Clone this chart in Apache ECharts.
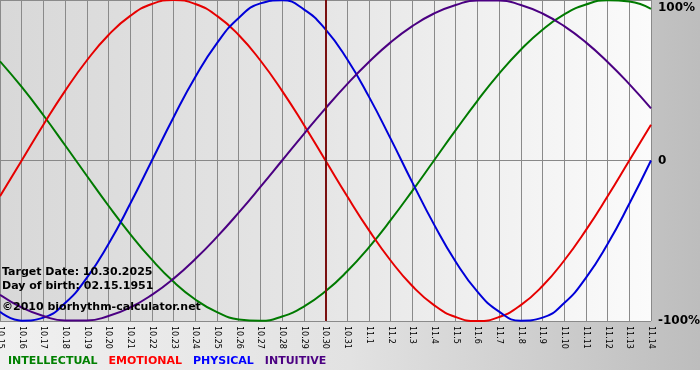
<!DOCTYPE html>
<html>
<head>
<meta charset="utf-8">
<script src="https://cdn.jsdelivr.net/npm/echarts@6/dist/echarts.min.js"></script>
<style>
html,body{margin:0;padding:0;background:#fff;}
#chartmain{width:700px;height:380px;}
</style>
</head>
<body>
<div id="chartmain"></div>
<script>
var days=['10.15','10.16','10.17','10.18','10.19','10.20','10.21','10.22','10.23','10.24','10.25','10.26','10.27','10.28','10.29','10.30','10.31',
	'11.1','11.2','11.3','11.4','11.5','11.6','11.7','11.8','11.9','11.10','11.11','11.12','11.13','11.14'];
var intellectual=[61.8,45.8,28.2,9.5,-9.5,-28.2,-45.8,-61.8,-75.6,-86.6,-94.5,-99.0,-99.9,-97.2,-91.0,-81.5,-69.0,-54.1,-37.2,-18.9,0,18.9,37.2,54.1,69.0,81.5,91.0,97.2,99.9,99.0,94.5];
var emotional=[-22.3,0,22.3,43.4,62.3,78.2,90.1,97.5,100,97.5,90.1,78.2,62.3,43.4,22.3,0,-22.3,-43.4,-62.3,-78.2,-90.1,-97.5,-100,-97.5,-90.1,-78.2,-62.3,-43.4,-22.3,0,22.3];
var physical=[-94.2,-99.8,-97.9,-88.8,-73.1,-52.0,-27.0,0,27.0,52.0,73.1,88.8,97.9,99.8,94.2,81.7,63.1,39.8,13.6,-13.6,-39.8,-63.1,-81.7,-94.2,-99.8,-97.9,-88.8,-73.1,-52.0,-27.0,0];
var intuitive=[-83.7,-91.6,-96.9,-99.7,-99.7,-96.9,-91.6,-83.7,-73.6,-61.4,-47.6,-32.5,-16.5,0,16.5,32.5,47.6,61.4,73.6,83.7,91.6,96.9,99.7,99.7,96.9,91.6,83.7,73.6,61.4,47.6,32.5];
var targetDay='10.30';
var infoLines=['Target Date: 10.30.2025','Day of birth: 02.15.1951','©2010 biorhythm-calculator.net'];

var font='DejaVu Sans';
function makeLine(name,color,data,extra){
	var s={
		name:name,
		type:'line',
		data:data,
		smooth:true,
		symbol:'none',
		lineStyle:{color:color,width:2},
		itemStyle:{color:color}
	};
	if(extra) s.markLine=extra;
	return s;
}
var option={
	animation:false,
	graphic:[
		{type:'rect',z:-10,shape:{x:0,y:0,width:700,height:370},
		 style:{fill:new echarts.graphic.LinearGradient(0,0,1,0,[{offset:0,color:'#f0f0f0'},{offset:0.5,color:'#e2e2e2'},{offset:1,color:'#bdbdbd'}])}},
		{type:'text',z:100,left:2,top:267,style:{text:infoLines[0],font:'bold 11px '+font,fill:'#000'}},
		{type:'text',z:100,left:2,top:281,style:{text:infoLines[1],font:'bold 11px '+font,fill:'#000'}},
		{type:'text',z:100,left:2,top:302,style:{text:infoLines[2],font:'bold 11px '+font,fill:'#000'}}
	],
	grid:{
		left:0,top:0,right:49,bottom:59,
		outerBoundsMode:'none',
		show:true,borderWidth:0,
		backgroundColor:new echarts.graphic.LinearGradient(0,0,1,0,[{offset:0,color:'#d8d8d8'},{offset:0.5,color:'#e6e6e6'},{offset:1,color:'#fbfbfb'}])
	},
	legend:{
		left:3,top:356,padding:0,
		icon:'none',itemWidth:0,itemHeight:0,itemGap:6,
		textStyle:{fontFamily:font,fontWeight:'bold',fontSize:11},
		data:[
			{name:'INTELLECTUAL',textStyle:{color:'#008000'}},
			{name:'EMOTIONAL',textStyle:{color:'#ff0000'}},
			{name:'PHYSICAL',textStyle:{color:'#0000ff'}},
			{name:'INTUITIVE',textStyle:{color:'#4b0082'}}
		]
	},
	xAxis:{
		type:'category',
		data:days,
		boundaryGap:false,
		axisLine:{lineStyle:{color:'#888'}},
		axisTick:{show:true,length:4,lineStyle:{color:'#888'}},
		axisLabel:{rotate:-90,interval:0,fontSize:8,fontFamily:font,color:'#000',margin:5},
		splitLine:{show:true,lineStyle:{color:'#8a8a8a',width:1}}
	},
	yAxis:{
		type:'value',
		position:'right',
		min:-100,max:100,interval:100,
		axisLine:{show:false},
		axisTick:{show:false},
		axisLabel:{
			margin:7,fontSize:12,fontWeight:'bold',fontFamily:font,color:'#000',
			verticalAlignMaxLabel:'top',
			padding:[2,0,0,0],
			formatter:function(v){return v==0?'0':v+'%';}
		},
		splitLine:{show:true,lineStyle:{color:'#8a8a8a',width:1}}
	},
	series:[
		makeLine('INTELLECTUAL','#007a00',intellectual),
		makeLine('EMOTIONAL','#e60000',emotional),
		makeLine('PHYSICAL','#0000d8',physical),
		makeLine('INTUITIVE','#4b0082',intuitive,{
			silent:true,symbol:['none','none'],label:{show:false},
			lineStyle:{color:'#7a1010',width:2,type:'solid'},
			data:[{xAxis:targetDay}]
		})
	]
};
var myChart=echarts.init(document.getElementById('chartmain'));
myChart.setOption(option);
</script>
</body>
</html>
